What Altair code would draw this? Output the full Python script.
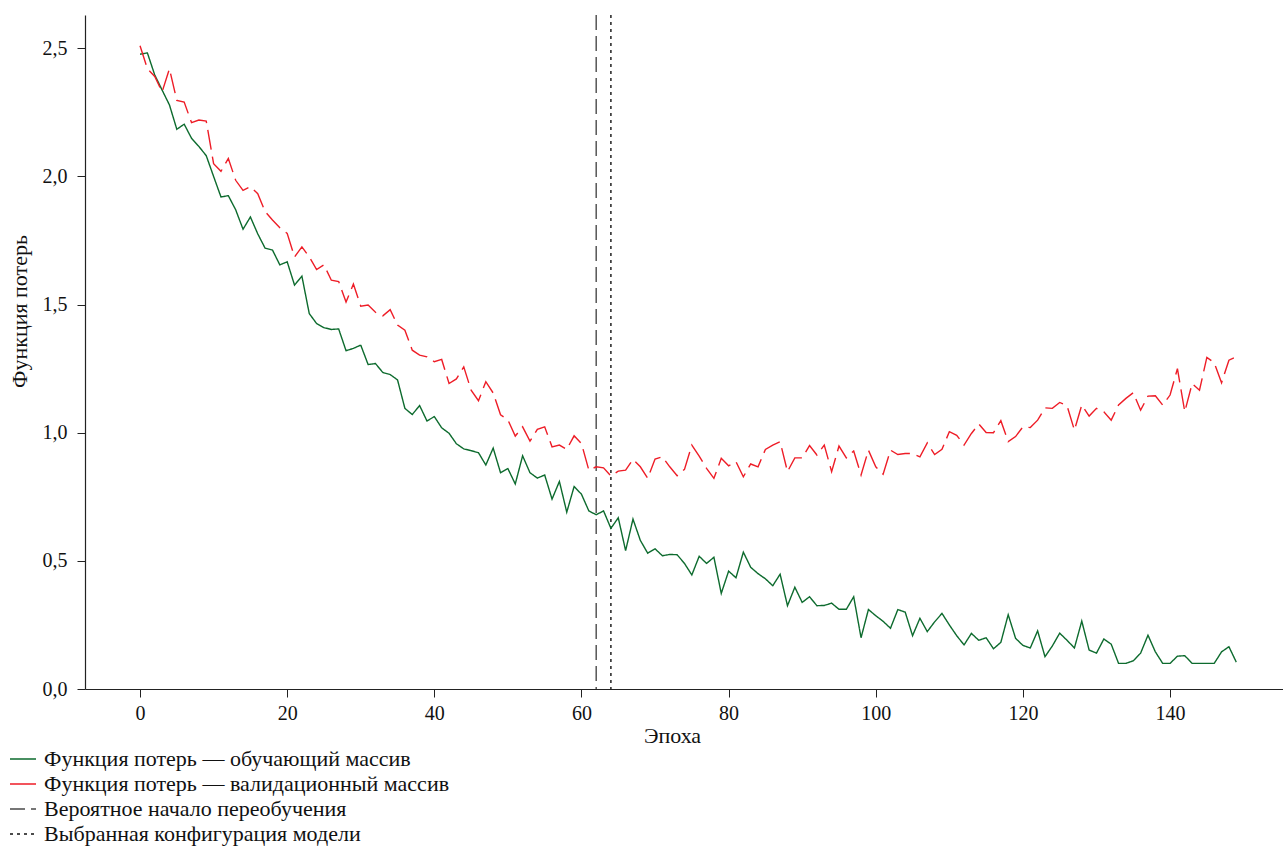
import altair as alt
import pandas as pd

# Loss per epoch, training set
train_loss = [
    2.477, 2.482, 2.396, 2.337, 2.279, 2.184, 2.204, 2.149, 2.117, 2.081,
    2.00, 1.92, 1.925, 1.87, 1.794, 1.842, 1.776, 1.72, 1.713, 1.655,
    1.667, 1.576, 1.611, 1.465, 1.426, 1.41, 1.403, 1.405, 1.32, 1.329,
    1.342, 1.266, 1.27, 1.235, 1.227, 1.206, 1.095, 1.071, 1.106, 1.046,
    1.063, 1.019, 0.998, 0.957, 0.937, 0.93, 0.922, 0.874, 0.94, 0.844,
    0.86, 0.80, 0.91, 0.844, 0.823, 0.835, 0.741, 0.81, 0.69, 0.79,
    0.76, 0.695, 0.68, 0.695, 0.627, 0.668, 0.54, 0.663, 0.58, 0.53,
    0.547, 0.52, 0.525, 0.524, 0.49, 0.445, 0.518, 0.49, 0.514, 0.373,
    0.46, 0.434, 0.534, 0.475, 0.45, 0.43, 0.403, 0.448, 0.325, 0.397,
    0.338, 0.36, 0.325, 0.326, 0.335, 0.311, 0.311, 0.36, 0.20, 0.31,
    0.286, 0.264, 0.237, 0.31, 0.30, 0.208, 0.276, 0.224, 0.262, 0.295,
    0.25, 0.208, 0.172, 0.217, 0.19, 0.20, 0.157, 0.182, 0.29, 0.198,
    0.17, 0.16, 0.227, 0.126, 0.168, 0.218, 0.19, 0.16, 0.265, 0.152,
    0.14, 0.195, 0.175, 0.10, 0.10, 0.11, 0.14, 0.21, 0.145, 0.10,
    0.10, 0.128, 0.13, 0.10, 0.10, 0.10, 0.10, 0.145, 0.165, 0.105,
]

# Loss per epoch, validation set
val_loss = [
    2.51, 2.42, 2.39, 2.33, 2.42, 2.297, 2.29, 2.21, 2.22, 2.216,
    2.05, 2.02, 2.07, 1.985, 1.946, 1.96, 1.933, 1.863, 1.83, 1.80,
    1.778, 1.686, 1.725, 1.686, 1.637, 1.655, 1.595, 1.59, 1.51, 1.58,
    1.494, 1.498, 1.47, 1.456, 1.48, 1.42, 1.40, 1.322, 1.303, 1.296,
    1.277, 1.286, 1.192, 1.21, 1.257, 1.166, 1.125, 1.199, 1.155, 1.07,
    1.05, 0.987, 1.023, 0.967, 1.013, 1.023, 0.945, 0.952, 0.935, 0.988,
    0.958, 0.854, 0.867, 0.863, 0.831, 0.85, 0.854, 0.896, 0.867, 0.822,
    0.897, 0.906, 0.867, 0.832, 0.857, 0.952, 0.909, 0.861, 0.822, 0.90,
    0.871, 0.887, 0.828, 0.878, 0.867, 0.935, 0.952, 0.965, 0.848, 0.902,
    0.902, 0.95, 0.913, 0.952, 0.848, 0.948, 0.902, 0.929, 0.835, 0.932,
    0.867, 0.838, 0.932, 0.915, 0.919, 0.919, 0.906, 0.96, 0.915, 0.935,
    1.004, 0.99, 0.952, 0.997, 1.034, 1.001, 1.0, 1.047, 0.965, 0.985,
    1.023, 1.02, 1.049, 1.097, 1.095, 1.118, 1.105, 1.01, 1.108, 1.065,
    1.095, 1.082, 1.049, 1.108, 1.134, 1.156, 1.088, 1.143, 1.144, 1.108,
    1.147, 1.25, 1.082, 1.192, 1.166, 1.294, 1.273, 1.195, 1.283, 1.296,
]

series_names = [
    "Функция потерь — обучающий массив",
    "Функция потерь — валидационный массив",
    "Вероятное начало переобучения",
    "Выбранная конфигурация модели",
]
series_colors = ["#0d6b2e", "#ee1d27", "#4a4a4a", "#111111"]
series_dashes = [[1, 0], [1, 0], [15, 6], [3, 4]]

overfit_epoch = 62
chosen_epoch = 64

epochs = list(range(len(train_loss)))
train_df = pd.DataFrame({"epoch": epochs, "loss": train_loss, "series": series_names[0]})
val_df = pd.DataFrame({"epoch": epochs, "loss": val_loss, "series": series_names[1]})
marks_df = pd.DataFrame({"epoch": [overfit_epoch, chosen_epoch], "series": series_names[2:]})

FONT = "Liberation Serif"

x_scale = alt.Scale(domain=[-7.48, 155.35], nice=False, zero=False)
y_scale = alt.Scale(domain=[0, 2.63], nice=False)

color_enc = alt.Color(
    "series:N",
    scale=alt.Scale(domain=series_names, range=series_colors),
    sort=series_names,
    legend=alt.Legend(
        title=None,
        orient="none",
        legendX=-76,
        legendY=730,
        direction="vertical",
        symbolType="stroke",
        symbolSize=676,
        symbolStrokeWidth=1.4,
        labelFont=FONT,
        labelFontSize=22,
        labelColor="#111111",
        labelLimit=700,
        labelOffset=7,
        rowPadding=-3,
    ),
)
dash_enc = alt.StrokeDash(
    "series:N",
    scale=alt.Scale(domain=series_names, range=series_dashes),
    sort=series_names,
    legend=None,
)

x_enc = alt.X(
    "epoch:Q",
    scale=x_scale,
    axis=alt.Axis(
        title="Эпоха",
        values=[0, 20, 40, 60, 80, 100, 120, 140],
        format="d",
        grid=False,
        tickSize=8,
        labelPadding=6,
        titleX=587,
        titleY=46,
        titleBaseline="middle",
    ),
)
y_enc = alt.Y(
    "loss:Q",
    scale=y_scale,
    axis=alt.Axis(
        title="Функция потерь",
        values=[0, 0.5, 1.0, 1.5, 2.0, 2.5],
        labelExpr="replace(format(datum.value, '.1f'), '.', ',')",
        grid=False,
        tickSize=8,
        labelPadding=10,
        titleX=-66,
        titleY=296,
        titleBaseline="middle",
    ),
)

train_line = (
    alt.Chart(train_df)
    .mark_line(strokeWidth=1.4)
    .encode(x=x_enc, y=y_enc, color=color_enc, strokeDash=dash_enc)
)

val_line = (
    alt.Chart(val_df)
    .mark_line(strokeWidth=1.4, strokeDash=[20, 7])
    .encode(x=x_enc, y=y_enc, color=color_enc)
)

marker_rules = (
    alt.Chart(marks_df)
    .mark_rule(strokeWidth=1.4)
    .encode(x=alt.X("epoch:Q", scale=x_scale), color=color_enc, strokeDash=dash_enc)
)

chart = (
    alt.layer(marker_rules, train_line, val_line)
    .properties(
        width=1198,
        height=674,
        autosize=alt.AutoSizeParams(type="none"),
        padding={"left": 85, "top": 15, "right": 0, "bottom": 158},
    )
    .configure_view(stroke="transparent")
    .configure_axis(
        domainColor="#222222",
        tickColor="#222222",
        domainWidth=1.2,
        labelFont=FONT,
        labelFontSize=20,
        labelColor="#111111",
        titleFont=FONT,
        titleFontSize=22,
        titleFontWeight="normal",
        titleColor="#111111",
    )
)

chart.save("out.html", embed_options={"renderer": "svg", "actions": False})
